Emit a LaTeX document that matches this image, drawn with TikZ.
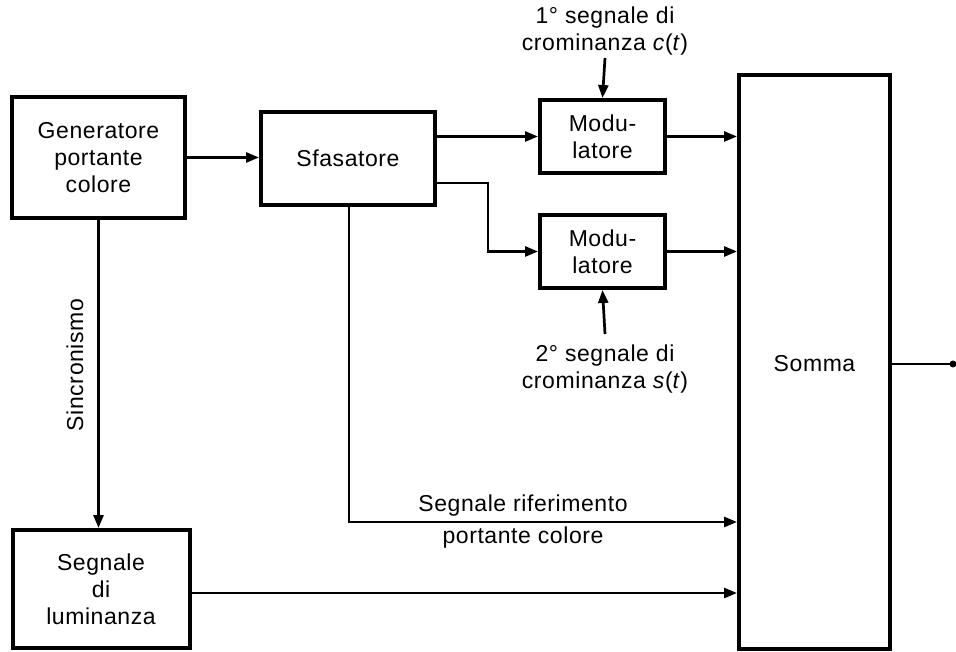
\documentclass[tikz,border=0pt]{standalone}
\usepackage{fontspec}
\setmainfont{Liberation Sans}[LetterSpace=2.5]
\usetikzlibrary{arrows.meta}
\begin{document}
\begin{tikzpicture}[x=1pt,y=-1pt,
  box/.style={draw,line width=4pt,rectangle,align=center,inner sep=0pt},
  conn/.style={line width=2.7pt},
  arr/.style={conn,-{Triangle[length=13pt,width=10pt]}},
  lbl/.style={align=center,inner sep=0pt},
  every node/.style={font=\fontsize{23}{27}\selectfont}]
\useasboundingbox (0,0) rectangle (956,652);
% blocks
\node[box,minimum width=173pt,minimum height=121pt] (gen) at (98.5,157.5) {Generatore\\portante\\colore};
\node[box,minimum width=174pt,minimum height=93pt] (sfas) at (348,158.5) {Sfasatore};
\node[box,minimum width=125pt,minimum height=73pt] (mod1) at (602.5,136.5) {Modu-\\latore};
\node[box,minimum width=125pt,minimum height=73pt] (mod2) at (602.5,251.5) {Modu-\\latore};
\node[box,minimum width=151pt,minimum height=574pt] (somma) at (814.5,362) {};
\node[lbl] (sommat) at (814.5,364) {Somma};
\node[box,minimum width=177pt,minimum height=118pt] (lum) at (101,589) {Segnale\\di\\luminanza};
% input labels
\node[lbl] (in1) at (605,31) {1° segnale di\\crominanza \textit{c}(\textit{t})};
\node[lbl] (in2) at (605,369) {2° segnale di\\crominanza \textit{s}(\textit{t})};
\node[lbl,rotate=90] (sinc) at (75,365) {Sincronismo};
\node[lbl] (rif1) at (523,506) {Segnale riferimento};
\node[lbl] (rif2) at (523,538) {portante colore};
% helper coordinates
\coordinate (b1) at (488,183);
\coordinate (rl) at (349,522);
\coordinate (ol) at (0,593);
\coordinate (out) at (953,364);
% connectors
\draw[arr] (gen.east) -- (gen.east -| sfas.west);
\draw[arr] (sfas.east |- mod1.west) -- (mod1.west);
\draw[arr] (sfas.east |- b1) -- (b1) |- (mod2.west);
\draw[arr] (mod1.east) -- (mod1.east -| somma.west);
\draw[arr] (mod2.east) -- (mod2.east -| somma.west);
\draw[arr] (in1.south |- 0,58) -- (mod1.north);
\draw[arr] (in2.north |- 0,334) -- (mod2.south);
\draw[arr] (gen.south) -- (gen.south |- lum.north);
\draw[arr] (sfas.south -| rl) -- (rl) -- (rl -| somma.west);
\draw[arr] (lum.east |- ol) -- (ol -| somma.west);
\draw[conn] (somma.east |- out) -- (out);
\fill (out) circle (3.5pt);
\end{tikzpicture}
\end{document}
